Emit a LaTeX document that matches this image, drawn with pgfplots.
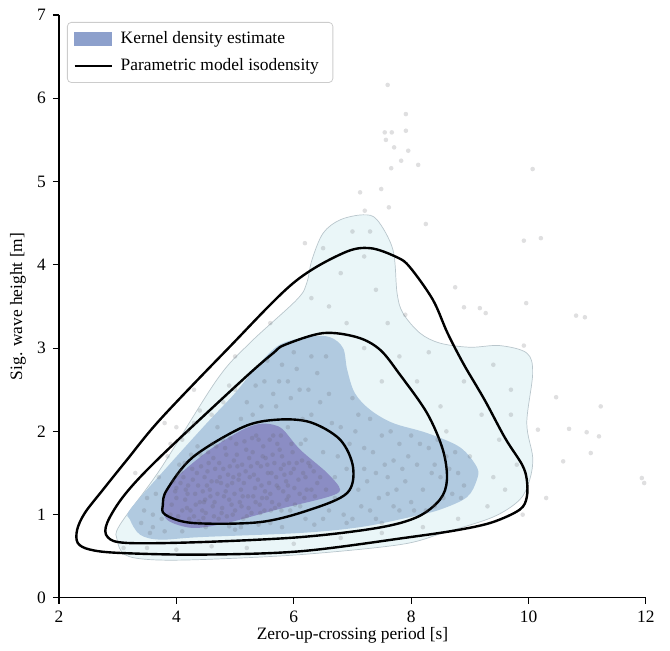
\documentclass[border=0pt]{standalone}
\usepackage{fontspec}
\setmainfont{Liberation Serif}
\usepackage{pgfplots}
\pgfplotsset{compat=1.18}

\definecolor{kdelight}{RGB}{234,246,248}
\definecolor{kdemid}{RGB}{177,202,224}
\definecolor{kdedark}{RGB}{139,141,196}
\definecolor{kdeedge}{RGB}{185,198,204}
\definecolor{kdeleg}{RGB}{141,160,204}
\definecolor{ptgray}{RGB}{95,95,100}

\newcommand{\lbl}{\fontsize{8.7}{10.4}\selectfont}

\pgfplotstableread{
x y
4.0 1.2
4.1 1.05
4.2 1.35
4.3 0.98
4.35 1.5
4.4 1.15
4.45 1.28
4.5 1.02
4.55 1.62
4.6 1.4
4.62 1.1
4.7 1.25
4.72 0.95
4.8 1.55
4.85 1.72
4.9 1.18
4.95 1.38
5.0 1.05
5.02 1.85
5.1 1.3
5.12 1.6
5.2 0.98
5.25 1.45
5.3 1.75
5.35 1.15
5.4 1.9
5.45 1.35
5.5 1.05
5.55 1.6
5.6 1.25
5.65 1.95
5.7 1.45
5.75 1.12
5.8 1.7
5.9 1.35
6.0 1.55
6.1 1.25
6.2 1.45
6.3 1.3
3.9 1.0
3.95 1.4
4.05 1.6
4.15 1.18
4.25 1.72
4.38 0.92
4.48 1.45
4.58 1.22
4.68 1.82
4.78 1.08
4.88 1.48
4.98 1.65
5.08 1.15
5.18 1.52
5.28 1.02
5.38 1.62
5.48 1.82
5.58 1.38
5.68 1.08
5.78 1.55
5.88 1.18
5.98 1.75
6.08 1.42
6.18 1.2
4.12 1.45
4.22 0.95
4.32 1.25
4.42 1.58
4.52 1.35
4.66 1.55
4.76 1.38
4.86 0.98
4.92 1.92
5.06 1.42
5.16 1.88
5.22 1.22
5.32 1.48
5.42 1.12
5.52 1.68
5.62 1.5
5.72 1.85
5.82 1.28
5.92 1.62
6.02 1.12
6.25 1.62
6.4 1.38
4.0 1.32
4.08 1.52
4.18 1.08
4.28 1.42
4.44 1.05
4.54 1.75
4.64 0.98
4.74 1.45
4.84 1.28
4.94 1.12
5.04 1.58
5.14 0.95
5.24 1.68
5.34 1.32
5.44 1.58
5.54 1.2
5.64 1.72
5.74 1.32
5.84 1.48
5.94 1.05
6.14 1.65
6.34 1.52
3.92 1.12
3.98 1.28
4.03 0.98
4.07 1.38
4.14 1.62
4.19 1.25
4.24 1.05
4.27 1.55
4.33 1.12
4.37 1.35
4.41 1.72
4.46 0.96
4.49 1.18
4.53 1.52
4.57 1.3
4.61 1.85
4.65 1.15
4.69 1.4
4.73 1.62
4.77 1.02
4.81 1.22
4.83 1.8
4.87 1.35
4.91 1.58
4.96 1.0
4.99 1.25
5.03 1.72
5.07 1.48
5.11 1.1
5.15 1.38
5.19 1.78
5.23 1.08
5.27 1.58
5.31 1.22
5.36 1.95
5.39 1.42
5.43 1.02
5.47 1.7
5.51 1.28
5.56 1.5
5.59 1.9
5.63 1.15
5.67 1.62
5.71 1.35
5.76 1.78
5.79 1.05
5.83 1.6
5.87 1.4
5.91 1.22
5.96 1.85
6.01 1.32
6.05 1.62
6.11 1.1
6.16 1.5
6.22 1.3
6.28 1.58
6.36 1.22
6.45 1.45
6.55 1.3
4.02 1.48
4.16 1.3
4.36 1.82
4.47 1.15
4.63 1.68
4.79 1.9
4.97 1.45
5.13 1.22
5.29 1.92
5.46 1.2
5.61 1.05
5.78 1.95
5.95 1.5
6.12 1.85
3.4 0.9
3.5 1.2
3.6 0.85
3.7 1.45
3.8 0.8
3.85 1.7
4.1 1.9
4.3 2.1
4.5 0.85
4.6 2.2
4.8 2.35
5.0 2.5
5.1 0.85
5.3 2.2
5.5 2.6
5.6 0.9
5.7 2.3
5.8 2.8
5.9 2.05
6.0 2.95
6.1 2.5
6.2 1.9
6.3 2.2
6.4 2.7
6.5 0.95
6.5 1.75
6.6 2.45
6.7 1.2
6.8 2.05
6.9 1.55
7.0 0.95
7.0 2.4
7.1 1.3
7.2 1.8
7.3 1.05
7.3 2.15
7.4 1.5
7.5 0.9
7.5 1.95
7.6 1.25
7.7 1.65
7.8 1.05
7.8 1.85
7.9 1.4
8.0 1.15
8.1 1.6
8.2 1.3
8.3 1.8
8.4 1.1
8.5 1.45
8.6 1.7
8.7 1.25
8.8 1.5
8.9 1.35
6.6 1.05
6.9 0.9
7.2 1.55
7.6 1.45
8.0 1.95
6.2 0.95
5.4 0.88
4.2 2.0
5.9 2.6
6.3 2.9
5.2 2.35
4.9 0.86
6.75 1.7
7.05 2.0
7.45 1.2
7.85 1.55
8.25 1.05
8.45 1.9
5.65 2.45
6.15 2.15
3.45 1.05
3.55 0.78
3.65 1.25
3.75 0.95
3.9 1.85
4.0 2.05
4.4 2.25
4.7 2.05
4.9 2.55
5.1 2.15
5.35 2.55
5.45 2.3
5.55 2.85
5.75 2.6
5.95 2.4
6.05 2.75
6.25 2.5
6.45 2.35
6.55 2.9
6.65 2.1
6.7 1.45
6.85 1.0
6.95 1.85
7.1 2.2
7.15 1.1
7.25 1.4
7.35 1.75
7.4 0.95
7.55 1.6
7.65 2.0
7.75 1.3
7.95 1.7
8.05 1.05
8.15 1.85
8.35 1.5
8.55 1.2
8.65 1.55
8.75 1.75
8.85 1.2
6.35 0.88
5.8 0.85
5.0 0.82
4.1 0.8
3.6 1.0
7.7 1.1
8.4 1.6
3.1 0.6
3.5 0.6
4.0 0.58
4.6 0.62
5.2 0.6
6.0 0.65
6.8 0.72
7.5 0.78
8.2 0.85
8.8 0.95
9.3 1.1
9.6 1.3
9.8 1.6
9.5 1.9
9.2 2.2
9.7 2.5
9.4 2.8
8.9 2.6
8.5 2.3
8.1 2.6
7.8 2.9
7.6 3.3
7.4 3.7
7.2 4.1
7.0 4.4
6.8 3.9
6.6 3.5
6.5 4.2
6.3 3.6
7.5 2.6
8.6 2.0
9.0 1.7
9.4 1.45
3.3 1.5
3.8 2.1
4.3 2.5
5.0 2.9
5.6 3.3
7.2 3.0
6.9 3.3
9.9 1.0
9.7 2.2
8.3 2.95
7.9 3.4
7.3 4.4
7.60 6.16
7.91 5.81
7.55 5.59
7.67 5.59
7.91 5.61
7.57 5.50
7.71 5.41
7.95 5.37
7.83 5.25
8.12 5.20
7.66 5.16
10.07 5.15
7.49 4.91
7.13 4.87
7.62 4.69
7.21 4.65
8.25 4.49
6.19 4.26
9.92 4.29
10.21 4.32
8.75 3.73
8.90 3.49
9.17 3.48
9.27 3.42
9.96 3.54
10.81 3.39
10.96 3.37
9.92 3.03
10.47 2.41
11.23 2.30
10.16 2.02
10.69 2.03
10.99 1.99
11.20 1.94
11.06 1.74
10.59 1.64
10.30 1.20
11.93 1.44
11.97 1.38
}\obs

\begin{document}
\begin{tikzpicture}
\begin{axis}[
    scale only axis, width=293.5pt, height=291.5pt,
    xmin=2, xmax=12, ymin=0, ymax=7,
    xtick={2,4,...,12}, ytick={0,1,...,7},
    axis x line*=bottom, axis y line*=left,
    axis line style={line width=0.55pt},
    tick align=outside, major tick length=3pt,
    tick style={black, line width=0.55pt},
    /pgf/number format/assume math mode=true,
    ticklabel style={font=\lbl},
    xlabel={Zero-up-crossing period [s]},
    ylabel={Sig. wave height [m]},
    label style={font=\lbl},
    xlabel style={at={(rel axis cs:0.5,-0.064)}, anchor=center},
    ylabel style={at={(rel axis cs:-0.0698,0.5)}, anchor=center},
    clip=false,
    legend cell align=left,
    legend style={at={(rel axis cs:0.0136,0.988)}, anchor=north west,
        draw={rgb,255:red,204;green,204;blue,204}, rounded corners=2pt,
        fill=white, fill opacity=0.8, text opacity=1, font=\lbl,
        inner xsep=3pt, inner ysep=2.5pt, row sep=2pt,
        nodes={inner xsep=4pt}},
]
% legend entries
\addlegendimage{legend image code/.code={\fill[kdeleg, fill opacity=1, sharp corners] (0cm,-0.12cm) rectangle (0.65cm,0.12cm);}}
\addlegendentry{Kernel density estimate}
\addlegendimage{legend image code/.code={\draw[black, line width=1.2pt, draw opacity=1, sharp corners] (0cm,0cm) -- (0.65cm,0cm);}}
\addlegendentry{Parametric model isodensity}

% kernel density estimate, three levels
\addplot[forget plot, fill=kdelight, draw=kdeedge, line width=0.35pt, smooth cycle, tension=0.55] coordinates {
    (7.18,4.60) (7.42,4.54) (7.69,4.18) (7.76,3.66) (7.86,3.42) (8.15,3.18)
    (8.49,3.06) (9.00,3.01) (9.51,3.03) (9.97,2.94) (10.07,2.70) (9.97,2.10)
    (10.07,1.69) (10.02,1.42) (9.85,1.18) (9.39,0.97) (8.54,0.78) (7.81,0.64)
    (6.11,0.52) (4.40,0.46) (3.55,0.46) (3.12,0.52) (2.99,0.70) (3.04,0.88)
    (3.72,1.54) (4.69,2.62) (5.25,3.06) (6.05,3.58) (6.22,3.78) (6.31,4.06)
    (6.50,4.38) (6.79,4.54)
};
\addplot[forget plot, fill=kdemid, draw=none, smooth cycle, tension=0.55] coordinates {
    (6.62,3.13) (6.84,3.00) (6.91,2.74) (7.04,2.46) (7.30,2.26) (7.69,2.10)
    (8.27,1.98) (8.83,1.81) (9.12,1.57) (9.12,1.42) (8.95,1.21) (8.49,1.06)
    (7.98,0.97) (7.13,0.85) (6.11,0.78) (4.40,0.73) (3.72,0.70) (3.38,0.76)
    (3.21,0.94) (3.21,1.06) (3.84,1.57) (4.52,2.10) (5.00,2.46) (5.37,2.78)
    (5.76,3.04) (6.28,3.14)
};
\addplot[forget plot, fill=kdedark, draw=none, smooth cycle, tension=0.5] coordinates {
    (5.65,2.08) (5.82,2.02) (6.11,1.78) (6.57,1.50) (6.79,1.30) (6.57,1.21)
    (5.71,1.06) (4.86,0.90) (4.28,0.84) (3.84,0.94) (3.77,1.18) (4.01,1.45)
    (4.57,1.78) (5.13,2.02) (5.42,2.09)
};

% observations
\addplot[forget plot, only marks, mark=*, mark size=1.15pt,
    mark options={fill=ptgray, draw=ptgray, line width=0pt,
        draw opacity=0, fill opacity=0.2}] table {\obs};

% parametric model isodensity contours
\addplot[forget plot, black, line width=1.2pt, smooth cycle, tension=0.55] coordinates {
    (7.30,4.20) (7.76,4.09) (7.98,3.97) (8.37,3.58) (8.62,3.18) (8.90,2.80)
    (9.25,2.38) (9.60,1.92) (9.89,1.60) (9.97,1.42) (9.97,1.21) (9.85,1.06)
    (9.39,0.91) (8.83,0.82) (7.98,0.73) (6.11,0.56) (4.40,0.52) (3.04,0.54)
    (2.53,0.58) (2.32,0.66) (2.31,0.82) (2.44,1.02) (2.75,1.30) (3.16,1.66)
    (3.72,2.14) (4.86,2.98) (5.99,3.78) (6.84,4.14)
};
\addplot[forget plot, black, line width=1.2pt, smooth cycle, tension=0.55] coordinates {
    (6.50,3.18) (7.08,3.13) (7.47,2.98) (7.81,2.68) (8.27,2.22) (8.54,1.78)
    (8.61,1.42) (8.49,1.18) (8.10,0.97) (7.42,0.84) (6.11,0.73) (4.40,0.67)
    (3.16,0.66) (2.83,0.73) (2.82,0.90) (3.12,1.24) (3.72,1.69) (5.13,2.62)
    (5.65,2.94) (5.85,3.04)
};
\addplot[forget plot, black, line width=1.2pt, smooth cycle, tension=0.55] coordinates {
    (5.71,2.14) (6.28,2.11) (6.79,1.90) (7.01,1.57) (6.91,1.26) (6.28,1.06)
    (5.42,0.91) (4.28,0.90) (3.81,1.00) (3.77,1.12) (3.84,1.30) (4.28,1.69)
    (5.13,2.05)
};

% page extent
\path (axis cs:0.995,-0.636) rectangle (axis cs:12.41,7.18);
\end{axis}
\end{tikzpicture}
\end{document}
